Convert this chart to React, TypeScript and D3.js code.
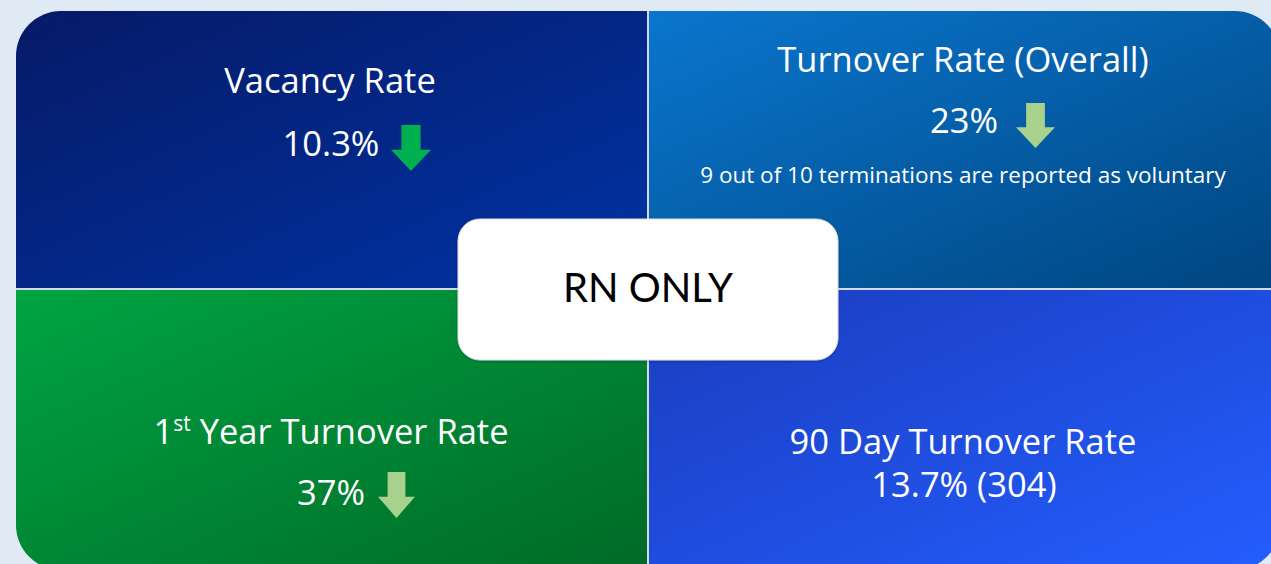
import React from "react";
import * as d3 from "d3";

const W = 1271;
const H = 564;

const titles = ["Vacancy Rate", "Turnover Rate (Overall)", "1st Year Turnover Rate", "90 Day Turnover Rate"];
const values = ["10.3%", "23%", "37%", "13.7% (304)"];
const arrows = ["dark", "light", "light", "none"];
const notes = ["", "9 out of 10 terminations are reported as voluntary", "", ""];
const centerLabel = "RN ONLY";

const gradients = [
  { id: "g0", from: "#061a66", to: "#0033a6", x2: 1, y2: 1 },
  { id: "g1", from: "#0a76ce", to: "#00457f", x2: 1, y2: 1 },
  { id: "g2", from: "#00a443", to: "#006a26", x2: 1, y2: 1 },
  { id: "g3", from: "#1a3cbd", to: "#245eff", x2: 1, y2: 1 },
];

const FONT = "'Open Sans', sans-serif";
const FS = 34.5;

function Arrow({ x, y, w, h, fill }: { x: number; y: number; w: number; h: number; fill: string }) {
  const shaftW = w * 0.48;
  const headTop = h * 0.54;
  const path = d3.path();
  path.moveTo(x + (w - shaftW) / 2, y);
  path.lineTo(x + (w + shaftW) / 2, y);
  path.lineTo(x + (w + shaftW) / 2, y + headTop);
  path.lineTo(x + w, y + headTop);
  path.lineTo(x + w / 2, y + h);
  path.lineTo(x, y + headTop);
  path.lineTo(x + (w - shaftW) / 2, y + headTop);
  path.closePath();
  return <path d={path.toString()} fill={fill} />;
}

export default function App() {
  const x0 = 16, y0 = 11, x1 = 1280, y1 = 570;
  const midX = 648, midY = 289;
  const xs = d3.scaleOrdinal<number, number>().domain([0, 1]).range([x0, midX]);
  const ys = d3.scaleOrdinal<number, number>().domain([0, 1]).range([y0, midY]);
  const quads = [0, 1, 2, 3].map((i) => {
    const c = i % 2, r = Math.floor(i / 2);
    const qx = xs(c), qy = ys(r);
    const qw = c === 0 ? midX - x0 : x1 - midX;
    const qh = r === 0 ? midY - y0 : y1 - midY;
    return { i, qx, qy, qw, qh };
  });
  const arrowFill: Record<string, string> = { dark: "#00b050", light: "#a9d18e" };

  return (
    <svg width={W} height={H} style={{ position: "absolute", left: 0, top: 0 }}>
      <defs>
        {gradients.map((g) => (
          <linearGradient key={g.id} id={g.id} x1="0" y1="0" x2={g.x2} y2={g.y2}>
            <stop offset="0%" stopColor={g.from} />
            <stop offset="100%" stopColor={g.to} />
          </linearGradient>
        ))}
        <clipPath id="outer">
          <rect x={x0} y={y0} width={x1 - x0} height={y1 - y0} rx={45} ry={45} />
        </clipPath>
        <filter id="shadow" x="-10%" y="-10%" width="120%" height="130%">
          <feDropShadow dx="0" dy="1" stdDeviation="1.5" floodColor="#000" floodOpacity="0.25" />
        </filter>
      </defs>
      <rect x={0} y={0} width={W} height={H} fill="#dfeaf4" />
      <g clipPath="url(#outer)">
        {quads.map((q) => (
          <rect key={q.i} x={q.qx} y={q.qy} width={q.qw} height={q.qh} fill={`url(#g${q.i})`} />
        ))}
        <line x1={midX} x2={midX} y1={y0} y2={y1} stroke="#d4dbe6" strokeWidth={2} />
        <line x1={x0} x2={x1} y1={midY} y2={midY} stroke="#d4dbe6" strokeWidth={2} />
      </g>

      {/* Top-left */}
      <text x={330} y={93} textAnchor="middle" fill="#fff" fontFamily={FONT} fontSize={FS}>{titles[0]}</text>
      <text x={331} y={156} textAnchor="middle" fill="#fff" fontFamily={FONT} fontSize={FS}>{values[0]}</text>
      <Arrow x={391} y={125} w={40} h={46} fill={arrowFill[arrows[0]]} />

      {/* Top-right */}
      <text x={963} y={72} textAnchor="middle" fill="#fff" fontFamily={FONT} fontSize={FS}>{titles[1]}</text>
      <text x={964} y={133} textAnchor="middle" fill="#fff" fontFamily={FONT} fontSize={FS}>{values[1]}</text>
      <Arrow x={1016} y={103} w={39} h={45} fill={arrowFill[arrows[1]]} />
      <text x={963} y={183} textAnchor="middle" fill="#fff" fontFamily={FONT} fontSize={22.5}>{notes[1]}</text>

      {/* Bottom-left */}
      <text x={331} y={444} textAnchor="middle" fill="#fff" fontFamily={FONT} fontSize={FS}>
        1<tspan fontSize={21} dy={-13}>st</tspan><tspan dy={13}> Year Turnover Rate</tspan>
      </text>
      <text x={331} y={505} textAnchor="middle" fill="#fff" fontFamily={FONT} fontSize={FS}>{values[2]}</text>
      <Arrow x={378} y={472} w={37} h={46} fill={arrowFill[arrows[2]]} />

      {/* Bottom-right */}
      <text x={963} y={454} textAnchor="middle" fill="#fff" fontFamily={FONT} fontSize={FS}>{titles[3]}</text>
      <text x={964} y={497} textAnchor="middle" fill="#fff" fontFamily={FONT} fontSize={FS}>{values[3]}</text>

      {/* Center box */}
      <rect x={458} y={219} width={380} height={141} rx={22} ry={22} fill="#fff" stroke="#d9dde3" strokeWidth={1} filter="url(#shadow)" />
      <text x={648} y={302} textAnchor="middle" fill="#000" fontFamily="'Gill Sans', 'Lato', sans-serif" fontSize={40}>{centerLabel}</text>
    </svg>
  );
}
